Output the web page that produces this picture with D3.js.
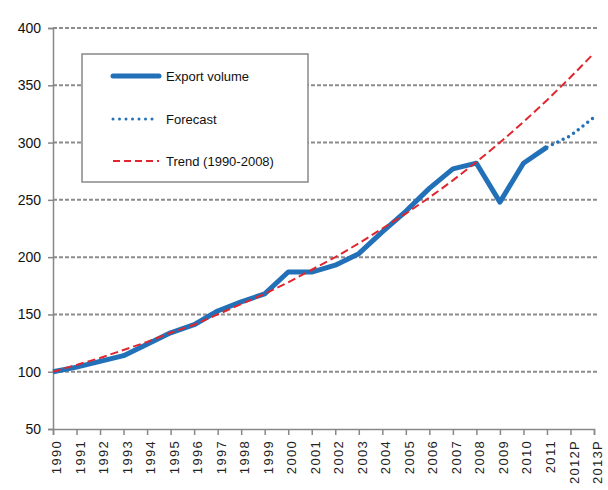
<!DOCTYPE html>
<html><head><meta charset="utf-8">
<script src="https://cdn.jsdelivr.net/npm/d3@7"></script>
<style>body{margin:0;background:#fff}svg{display:block}</style>
</head><body>
<svg id="c" width="608" height="490"></svg>
<script>
const categories = ["1990","1991","1992","1993","1994","1995","1996","1997","1998","1999","2000","2001","2002","2003","2004","2005","2006","2007","2008","2009","2010","2011","2012P","2013P"];
const exportVolume = [100,104,109,114,124,134,141,153,161,168,187,187,193,203,222,240,260,277,282,248,282,296,null,null];
const forecast = [null,null,null,null,null,null,null,null,null,null,null,null,null,null,null,null,null,null,null,null,null,296,306,322];
const trend = [100,106,112,119,126,134,141,150,159,168,178,189,200,212,225,238,252,267,283,300,318,337,357,378];
const yTicks = [50,100,150,200,250,300,350,400];
const legendLabels = ["Export volume","Forecast","Trend (1990-2008)"];

const svg = d3.select("#c");
const x = d3.scalePoint().domain(categories).range([53, 594]);
const y = d3.scaleLinear().domain([50, 400]).range([429, 28]);
const font = "'Liberation Sans', Arial, sans-serif";

// gridlines
svg.append("g").selectAll("line").data(yTicks.slice(1)).join("line")
  .attr("x1", 53).attr("x2", 598).attr("y1", d => y(d)).attr("y2", d => y(d))
  .attr("stroke", "#8c8c8c").attr("stroke-width", 2).attr("stroke-dasharray", "4,2");

// y axis
const ya = svg.append("g").attr("transform", "translate(53,0)")
  .call(d3.axisLeft(y).tickValues(yTicks).tickSize(5).tickPadding(7));
ya.select(".domain").attr("stroke", "#888").attr("stroke-width", 1.5);
ya.selectAll(".tick line").attr("stroke", "#888").attr("stroke-width", 1.5);
ya.selectAll("text").attr("font-size", 14).attr("font-family", font).attr("fill", "#111");

// x axis
const xa = svg.append("g").attr("transform", "translate(0,429)")
  .call(d3.axisBottom(x).tickSize(6).tickPadding(5));
xa.select(".domain").attr("stroke", "#888").attr("stroke-width", 1.5);
xa.selectAll(".tick line").attr("stroke", "#888").attr("stroke-width", 1.5);
xa.selectAll("text").attr("font-size", 13).attr("font-family", font).attr("fill", "#222")
  .attr("letter-spacing", "1.3px")
  .attr("transform", "rotate(-90)").attr("text-anchor", "end")
  .attr("x", -11).attr("y", 3).attr("dy", "0.35em");

// lines
const line = d3.line().defined(d => d.v != null).x(d => x(d.c)).y(d => y(d.v));
const toPts = arr => categories.map((c, i) => ({c, v: arr[i]}));

svg.append("path").datum(toPts(exportVolume)).attr("d", line)
  .attr("fill", "none").attr("stroke", "#2271b8").attr("stroke-width", 5)
  .attr("stroke-linejoin", "round");
svg.append("path").datum(toPts(forecast)).attr("d", line)
  .attr("fill", "none").attr("stroke", "#2271b8").attr("stroke-width", 3.5)
  .attr("stroke-dasharray", "0,6").attr("stroke-linecap", "round");
svg.append("path").datum(toPts(trend)).attr("d", line)
  .attr("fill", "none").attr("stroke", "#e0262e").attr("stroke-width", 2)
  .attr("stroke-dasharray", "8,4");

// legend
const lg = svg.append("g");
lg.append("rect").attr("x", 82).attr("y", 54).attr("width", 226).attr("height", 128)
  .attr("fill", "#fff").attr("stroke", "#888").attr("stroke-width", 1.5);
const rows = [76, 119, 161];
lg.append("line").attr("x1", 113).attr("x2", 159).attr("y1", rows[0]).attr("y2", rows[0])
  .attr("stroke", "#2271b8").attr("stroke-width", 5).attr("stroke-linecap", "round");
lg.append("line").attr("x1", 113).attr("x2", 155).attr("y1", rows[1]).attr("y2", rows[1])
  .attr("stroke", "#2271b8").attr("stroke-width", 3).attr("stroke-dasharray", "0,6.5").attr("stroke-linecap", "round");
lg.append("line").attr("x1", 113).attr("x2", 159).attr("y1", rows[2]).attr("y2", rows[2])
  .attr("stroke", "#e0262e").attr("stroke-width", 2).attr("stroke-dasharray", "7,4");
lg.selectAll("text").data(legendLabels).join("text")
  .attr("x", 166).attr("y", (d, i) => rows[i]).attr("dy", "0.35em")
  .attr("font-size", 13).attr("font-family", font).attr("fill", "#111").text(d => d);
</script>
</body></html>
